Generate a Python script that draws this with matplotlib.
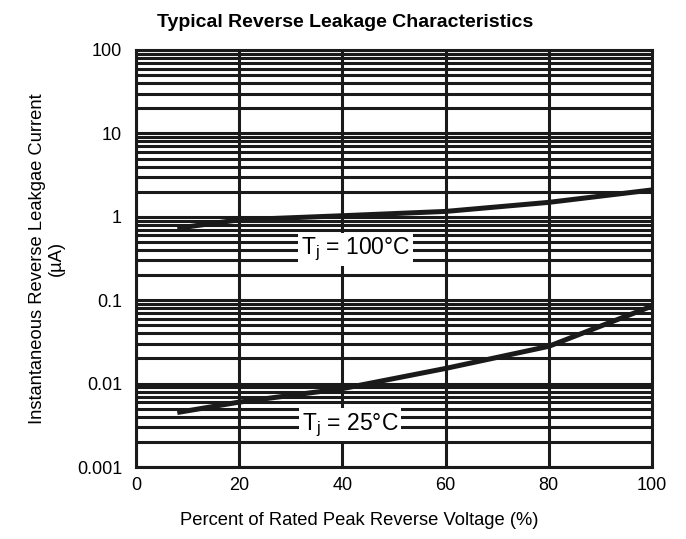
import numpy as np
import matplotlib
matplotlib.use('Agg')
import matplotlib.pyplot as plt
from matplotlib.ticker import LogLocator, FixedLocator, NullFormatter

plt.rcParams['font.family'] = ['Liberation Sans', 'DejaVu Sans']

# Curves
voltage_pct = [8, 20, 40, 60, 80, 100]
leak_100c = [0.73, 0.92, 1.03, 1.16, 1.49, 2.1]
leak_25c = [0.0045, 0.006, 0.0087, 0.0152, 0.028, 0.085]

x_ticks = [0, 20, 40, 60, 80, 100]
y_ticks = [0.001, 0.01, 0.1, 1, 10, 100]
y_tick_labels = ['0.001', '0.01', '0.1', '1', '10', '100']

fig = plt.figure(figsize=(6.86, 5.39), dpi=100)
ax = fig.add_axes([136 / 686, 1 - 467 / 539, 516 / 686, 417 / 539])

ax.set_yscale('log')
ax.set_xlim(0, 100)
ax.set_ylim(0.001, 100)

# dense horizontal grid on every minor decade step, vertical every 20 %
ax.yaxis.set_minor_locator(LogLocator(base=10, subs=np.arange(1, 10), numticks=20))
ax.yaxis.set_minor_formatter(NullFormatter())
ax.grid(True, which='both', axis='y', color='#1a1a1a', linewidth=2.2)
ax.xaxis.set_major_locator(FixedLocator(x_ticks))
ax.grid(True, which='major', axis='x', color='#1a1a1a', linewidth=2.2)

ax.set_xticks(x_ticks)
ax.set_xticklabels([str(v) for v in x_ticks], fontsize=13)
ax.set_yticks(y_ticks)
ax.set_yticklabels(y_tick_labels, fontsize=13)
ax.tick_params(axis='x', which='both', length=0, pad=7)
ax.tick_params(axis='y', which='both', length=0, pad=10)

for s in ax.spines.values():
    s.set_linewidth(2.2)
    s.set_color('#1a1a1a')

ax.plot(voltage_pct, leak_100c, color='#1a1a1a', linewidth=3.6, solid_capstyle='butt')
ax.plot(voltage_pct, leak_25c, color='#1a1a1a', linewidth=3.6, solid_capstyle='butt')

box = dict(facecolor='white', edgecolor='none', pad=2)
ax.text(42.5, 0.41, r'T$_\mathregular{j}$ = 100°C', fontsize=16.5, ha='center', va='center', bbox=box)
ax.text(41.5, 0.0032, r'T$_\mathregular{j}$ = 25°C', fontsize=16.5, ha='center', va='center', bbox=box)

ax.set_xlabel('Percent of Rated Peak Reverse Voltage (%)', fontsize=13.2)
ax.xaxis.set_label_coords(0.432, -0.108)
ax.set_ylabel('Instantaneous Reverse Leakgae Current\n(µA)', fontsize=13.2)
ax.yaxis.set_label_coords(-0.137, 0.5)
fig.text(345 / 686, 1 - 27 / 539, 'Typical Reverse Leakage Characteristics',
         fontsize=14, fontweight='bold', ha='center', va='baseline')

fig.savefig('out.png', dpi=100)
